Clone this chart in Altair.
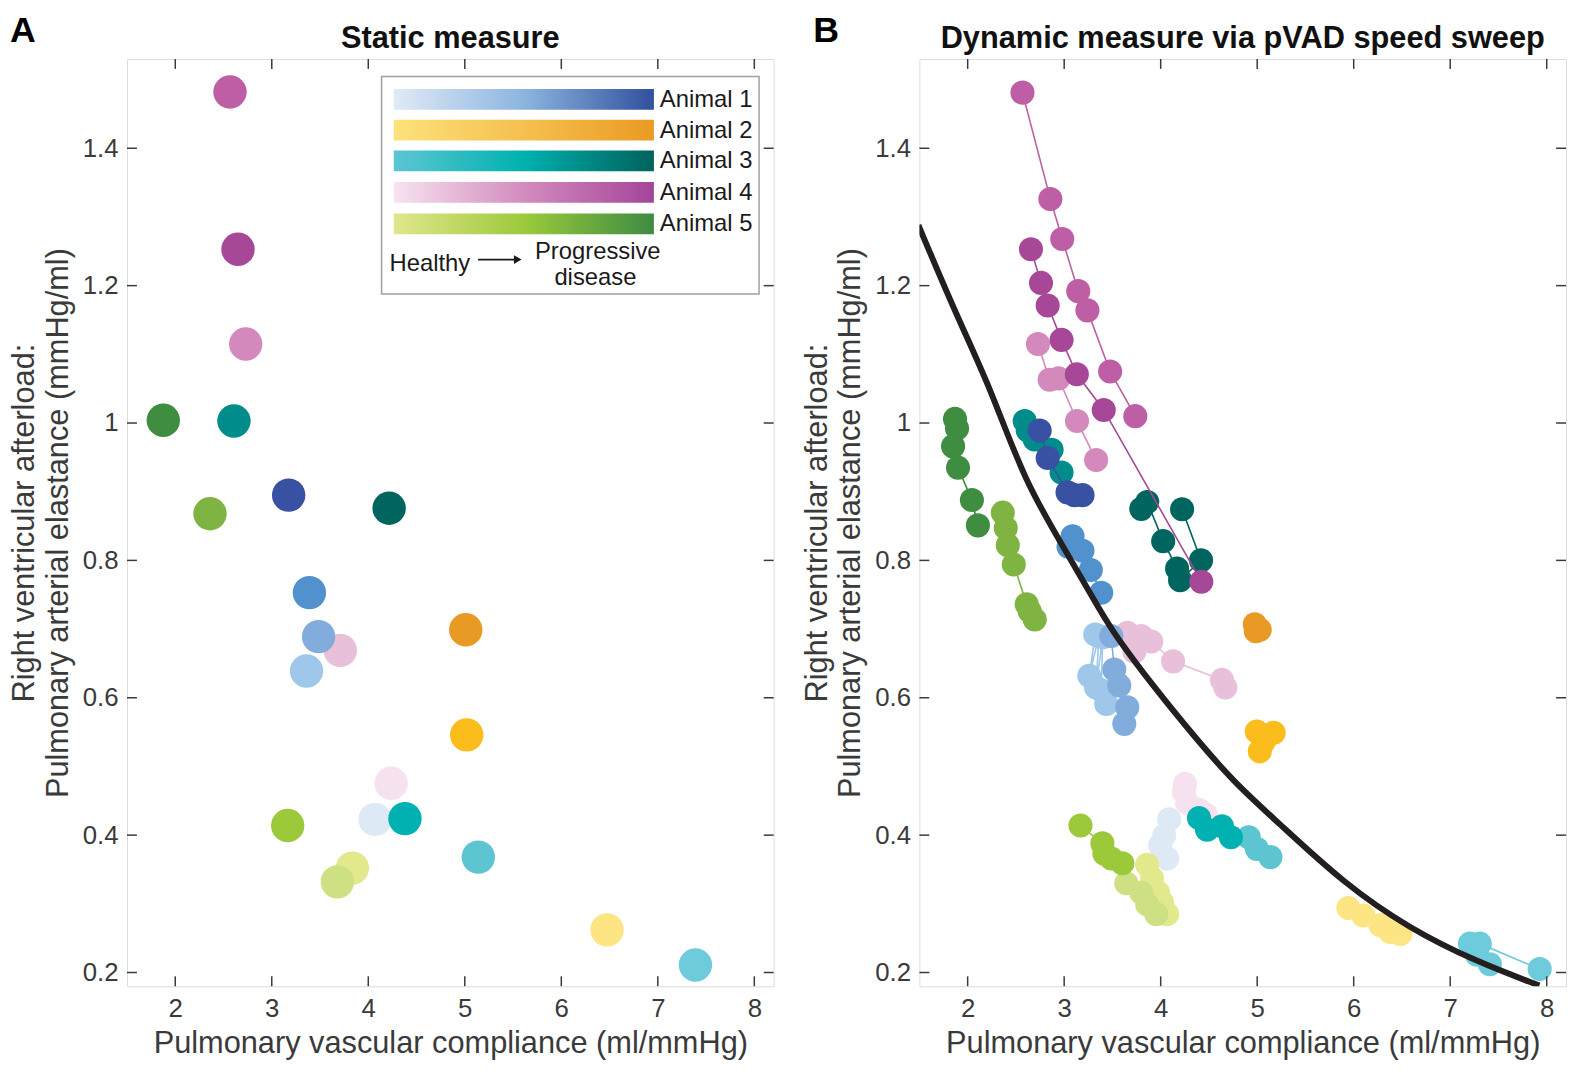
import altair as alt
import pandas as pd

FONT = "Liberation Sans"
W, H = 652, 935
XDOM = [1.5, 8.2]
YDOM = [0.18, 1.53]
AXIS_COL = "#3a3a3a"
TEXT_COL = "#1a1a1a"

# ---------------- data ----------------
x_ticks = [2, 3, 4, 5, 6, 7, 8]
y_ticks = [0.2, 0.4, 0.6, 0.8, 1.0, 1.2, 1.4]
animal_names = ["Animal 1", "Animal 2", "Animal 3", "Animal 4", "Animal 5"]

# stage colours (healthy -> progressive disease)
a1_colors = ["#dde9f5", "#9fc7ea", "#82acdc", "#5192ce", "#3951a3"]
a2_colors = ["#fde584", "#fbbd1c", "#e99a24"]
a3_colors = ["#6ecbdb", "#5cc5d1", "#00b1b1", "#008c8a", "#00645f"]
a4_colors = ["#f6e2ef", "#e9c0da", "#d489bd", "#be5ea4", "#a64897"]
a5_colors = ["#e2e88c", "#cde083", "#9cc93a", "#7fb342", "#3e8d41"]

# legend gradients
grad_a1 = ["#e0eaf7", "#8cb5df", "#31509e"]
grad_a2 = ["#fde27b", "#f5c04f", "#ea9a22"]
grad_a3 = ["#5cc6d3", "#00b1ae", "#00625d"]
grad_a4 = ["#f7e3f0", "#d38cbe", "#a5449a"]
grad_a5 = ["#e0e68c", "#9cca3b", "#3d8b42"]

# static measure (panel A)
static_a1_x = [4.07, 3.36, 3.485, 3.39, 3.175]
static_a1_y = [0.423, 0.639, 0.689, 0.753, 0.895]
static_a2_x = [6.474, 5.02, 5.01]
static_a2_y = [0.262, 0.546, 0.699]
static_a3_x = [7.39, 5.14, 4.38, 2.608, 4.216]
static_a3_y = [0.211, 0.368, 0.424, 1.003, 0.876]
static_a4_x = [4.237, 3.71, 2.73, 2.567, 2.65]
static_a4_y = [0.4755, 0.669, 1.115, 1.482, 1.253]
static_a5_x = [3.835, 3.68, 3.165, 2.36, 1.876]
static_a5_y = [0.352, 0.332, 0.414, 0.868, 1.004]

# dynamic measure (panel B), one sweep per animal/stage
dyn_a1s1_x = [4.088, 4.036, 3.995, 4.067]
dyn_a1s1_y = [0.423, 0.399, 0.385, 0.366]
dyn_a1s2_x = [3.322, 3.260, 3.36, 3.33, 3.40, 3.384, 3.436]
dyn_a1s2_y = [0.692, 0.632, 0.690, 0.615, 0.688, 0.611, 0.591]
dyn_a1s3_x = [3.488, 3.519, 3.571, 3.654, 3.623]
dyn_a1s3_y = [0.690, 0.641, 0.618, 0.586, 0.562]
dyn_a1s4_x = [3.087, 3.045, 3.190, 3.276, 3.384]
dyn_a1s4_y = [0.835, 0.820, 0.814, 0.786, 0.753]
dyn_a1s5_x = [2.746, 2.829, 3.035, 3.107, 3.190]
dyn_a1s5_y = [0.989, 0.949, 0.899, 0.895, 0.895]

dyn_a2s1_x = [5.945, 6.100, 6.276, 6.379, 6.482]
dyn_a2s1_y = [0.294, 0.283, 0.269, 0.259, 0.256]
dyn_a2s2_x = [4.996, 5.171, 5.068, 5.027]
dyn_a2s2_y = [0.551, 0.549, 0.536, 0.522]
dyn_a2s3_x = [4.975, 5.027, 4.986]
dyn_a2s3_y = [0.707, 0.699, 0.697]

dyn_a3s1_x = [7.411, 7.277, 7.204, 7.307, 7.927]
dyn_a3s1_y = [0.212, 0.226, 0.242, 0.242, 0.205]
dyn_a3s2_x = [4.913, 4.996, 5.137]
dyn_a3s2_y = [0.397, 0.380, 0.368]
dyn_a3s3_x = [4.397, 4.480, 4.635, 4.728]
dyn_a3s3_y = [0.425, 0.408, 0.413, 0.397]
dyn_a3s4_x = [2.591, 2.622, 2.695, 2.870, 2.973]
dyn_a3s4_y = [1.003, 0.989, 0.976, 0.961, 0.928]
dyn_a3s5_x = [4.222, 4.418, 4.201, 4.170, 4.026, 3.861, 3.799]
dyn_a3s5_y = [0.8745, 0.800, 0.771, 0.788, 0.828, 0.885, 0.875]

dyn_a4s1_x = [4.252, 4.242, 4.273, 4.396, 4.468]
dyn_a4s1_y = [0.4746, 0.4624, 0.447, 0.437, 0.430]
dyn_a4s2_x = [3.654, 3.727, 3.799, 3.902, 4.129, 4.635, 4.670]
dyn_a4s2_y = [0.6945, 0.667, 0.690, 0.682, 0.653, 0.626, 0.615]
dyn_a4s3_x = [2.728, 2.849, 2.942, 3.133, 3.331]
dyn_a4s3_y = [1.115, 1.063, 1.065, 1.003, 0.946]
dyn_a4s4_x = [2.568, 2.857, 2.980, 3.146, 3.241, 3.476, 3.737]
dyn_a4s4_y = [1.481, 1.326, 1.268, 1.192, 1.164, 1.075, 1.010]
dyn_a4s5_x = [2.656, 2.760, 2.829, 2.973, 3.131, 3.410, 4.421]
dyn_a4s5_y = [1.253, 1.204, 1.171, 1.121, 1.071, 1.019, 0.769]

dyn_a5s1_x = [3.859, 3.910, 3.972, 4.014, 4.066]
dyn_a5s1_y = [0.357, 0.337, 0.3165, 0.302, 0.285]
dyn_a5s2_x = [3.644, 3.799, 3.861, 3.954]
dyn_a5s2_y = [0.330, 0.316, 0.299, 0.285]
dyn_a5s3_x = [3.169, 3.396, 3.417, 3.489, 3.603]
dyn_a5s3_y = [0.414, 0.388, 0.373, 0.366, 0.359]
dyn_a5s4_x = [2.364, 2.395, 2.416, 2.478, 2.612, 2.643, 2.695]
dyn_a5s4_y = [0.8695, 0.847, 0.822, 0.794, 0.736, 0.726, 0.714]
dyn_a5s5_x = [1.869, 1.890, 1.849, 1.900, 2.044, 2.106]
dyn_a5s5_y = [1.006, 0.992, 0.966, 0.935, 0.888, 0.851]

# black fitted curve
fit_x = [1.49, 1.886, 2.237, 2.591, 3.038, 3.383, 3.554, 3.933, 4.346, 4.758, 5.205, 5.894, 6.582, 7.269, 7.924]
fit_y = [1.288, 1.156, 1.051, 0.914, 0.809, 0.724, 0.686, 0.615, 0.544, 0.477, 0.420, 0.330, 0.2635, 0.216, 0.181]

# ---------------- assemble ----------------
animals = [
    (1, a1_colors, static_a1_x, static_a1_y,
     [(dyn_a1s1_x, dyn_a1s1_y), (dyn_a1s2_x, dyn_a1s2_y), (dyn_a1s3_x, dyn_a1s3_y),
      (dyn_a1s4_x, dyn_a1s4_y), (dyn_a1s5_x, dyn_a1s5_y)]),
    (2, a2_colors, static_a2_x, static_a2_y,
     [(dyn_a2s1_x, dyn_a2s1_y), (dyn_a2s2_x, dyn_a2s2_y), (dyn_a2s3_x, dyn_a2s3_y)]),
    (3, a3_colors, static_a3_x, static_a3_y,
     [(dyn_a3s1_x, dyn_a3s1_y), (dyn_a3s2_x, dyn_a3s2_y), (dyn_a3s3_x, dyn_a3s3_y),
      (dyn_a3s4_x, dyn_a3s4_y), (dyn_a3s5_x, dyn_a3s5_y)]),
    (4, a4_colors, static_a4_x, static_a4_y,
     [(dyn_a4s1_x, dyn_a4s1_y), (dyn_a4s2_x, dyn_a4s2_y), (dyn_a4s3_x, dyn_a4s3_y),
      (dyn_a4s4_x, dyn_a4s4_y), (dyn_a4s5_x, dyn_a4s5_y)]),
    (5, a5_colors, static_a5_x, static_a5_y,
     [(dyn_a5s1_x, dyn_a5s1_y), (dyn_a5s2_x, dyn_a5s2_y), (dyn_a5s3_x, dyn_a5s3_y),
      (dyn_a5s4_x, dyn_a5s4_y), (dyn_a5s5_x, dyn_a5s5_y)]),
]
gradients = [grad_a1, grad_a2, grad_a3, grad_a4, grad_a5]

static_rows = []
series = []
for aid, cols, sx, sy, dyn in animals:
    for k in range(len(sx)):
        static_rows.append({"x": sx[k], "y": sy[k], "color": cols[k], "rank": (k + 1) * 10 + aid})
    for k, (dx, dy) in enumerate(dyn):
        df = pd.DataFrame({"x": dx, "y": dy, "idx": list(range(len(dx)))})
        series.append(((k + 1) * 10 + aid, cols[k], df))
static_df = pd.DataFrame(static_rows)
series.sort(key=lambda s: s[0])

xs = alt.Scale(domain=XDOM, nice=False, zero=False)
ys = alt.Scale(domain=YDOM, nice=False, zero=False)

x_axis = alt.Axis(values=x_ticks, title="Pulmonary vascular compliance (ml/mmHg)",
                  ticks=False, domain=False, grid=False, labelFontSize=26, labelPadding=10,
                  titleFontSize=31, titlePadding=7, labelColor=AXIS_COL, titleColor=AXIS_COL,
                  labelFont=FONT, titleFont=FONT, titleFontWeight="normal")
y_axis = alt.Axis(values=y_ticks, format="~g",
                  title=["Right ventricular afterload:", "Pulmonary arterial elastance (mmHg/ml)"],
                  ticks=False, domain=False, grid=False, labelFontSize=26, labelPadding=9,
                  titleFontSize=31, titlePadding=8, titleLineHeight=34,
                  labelColor=AXIS_COL, titleColor=AXIS_COL,
                  labelFont=FONT, titleFont=FONT, titleFontWeight="normal")


def X(field):
    return alt.X(field, scale=xs, axis=x_axis)


def Y(field):
    return alt.Y(field, scale=ys, axis=y_axis)


one = pd.DataFrame({"a": [0]})
xt_df = pd.DataFrame({"x": x_ticks})
yt_df = pd.DataFrame({"y": y_ticks})


def tick_layers():
    tick = dict(color=AXIS_COL, strokeWidth=1.5)
    xb = alt.Chart(xt_df).mark_rule(**tick).encode(
        x=X("x:Q"), y=alt.value(H), y2=alt.value(H - 10))
    xtp = alt.Chart(xt_df).mark_rule(**tick).encode(
        x=X("x:Q"), y=alt.value(0), y2=alt.value(10))
    yl = alt.Chart(yt_df).mark_rule(**tick).encode(
        y=Y("y:Q"), x=alt.value(0), x2=alt.value(10))
    yr = alt.Chart(yt_df).mark_rule(**tick).encode(
        y=Y("y:Q"), x=alt.value(W), x2=alt.value(W - 10))
    return [xb, xtp, yl, yr]


def letter(txt, xpos):
    return alt.Chart(one).mark_text(text=txt, font=FONT, fontSize=36, fontWeight="bold",
                                    align="left", baseline="top", color="#000000").encode(
        x=alt.value(xpos), y=alt.value(-45))


def panel_title(txt):
    return alt.Chart(one).mark_text(text=txt, font=FONT, fontSize=31, fontWeight="bold",
                                    align="center", baseline="alphabetic", color="#111111").encode(
        x=alt.value(W / 2), y=alt.value(-11))


# ---------------- panel A ----------------
points_a = alt.Chart(static_df).mark_circle(size=1134, opacity=1, strokeWidth=0).encode(
    x=X("x:Q"), y=Y("y:Q"),
    color=alt.Color("color:N", scale=None),
    order=alt.Order("rank:Q"),
)

legend_layers = [
    alt.Chart(one).mark_rect(fill="white", stroke="#a0a0a0", strokeWidth=1.5).encode(
        x=alt.value(256.7), x2=alt.value(637.3), y=alt.value(17.7), y2=alt.value(237))
]
bar_tops = [30.3, 61.3, 92.3, 124.0, 155.7]
for i, gcols in enumerate(gradients):
    n = len(gcols)
    g = alt.LinearGradient(gradient="linear",
                           stops=[alt.GradientStop(color=c, offset=j / (n - 1)) for j, c in enumerate(gcols)],
                           x1=0, x2=1, y1=0, y2=0)
    legend_layers.append(alt.Chart(one).mark_rect(fill=g, strokeWidth=0).encode(
        x=alt.value(269), x2=alt.value(531.3), y=alt.value(bar_tops[i]), y2=alt.value(bar_tops[i] + 21)))
    legend_layers.append(alt.Chart(one).mark_text(
        text=animal_names[i], font=FONT, fontSize=24, align="left", baseline="middle", color=TEXT_COL).encode(
        x=alt.value(537.3), y=alt.value(bar_tops[i] + 11)))
legend_layers.append(alt.Chart(one).mark_text(
    text="Healthy", font=FONT, fontSize=24, align="left", baseline="middle", color=TEXT_COL).encode(
    x=alt.value(264.7), y=alt.value(206.3)))
legend_layers.append(alt.Chart(one).mark_rule(color=TEXT_COL, strokeWidth=1.6).encode(
    x=alt.value(354), x2=alt.value(392), y=alt.value(202.3)))
legend_layers.append(alt.Chart(one).mark_point(shape="triangle-right", filled=True, size=80,
                                               color=TEXT_COL, opacity=1).encode(
    x=alt.value(394), y=alt.value(202.3)))
legend_layers.append(alt.Chart(one).mark_text(
    text="Progressive", font=FONT, fontSize=24, align="center", baseline="middle", color=TEXT_COL).encode(
    x=alt.value(474.7), y=alt.value(194.7)))
legend_layers.append(alt.Chart(one).mark_text(
    text="disease", font=FONT, fontSize=24, align="center", baseline="middle", color=TEXT_COL).encode(
    x=alt.value(472.3), y=alt.value(221)))

panel_a = alt.layer(points_a, *tick_layers(), *legend_layers, letter("A", -118),
                    panel_title("Static measure")).properties(width=W, height=H)

# ---------------- panel B ----------------
b_layers = []
for rank, col, df in series:
    b_layers.append(alt.Chart(df).mark_line(color=col, strokeWidth=1.6).encode(
        x=X("x:Q"), y=Y("y:Q"), order="idx:Q"))
    b_layers.append(alt.Chart(df).mark_circle(color=col, size=590, opacity=1, strokeWidth=0).encode(
        x=X("x:Q"), y=Y("y:Q")))

fit_df = pd.DataFrame({"x": fit_x, "y": fit_y})
curve = alt.Chart(fit_df).mark_line(color="#231f20", strokeWidth=6, interpolate="basis", clip=True).encode(
    x=X("x:Q"), y=Y("y:Q"))

panel_b = alt.layer(*b_layers, curve, *tick_layers(), letter("B", -107),
                    panel_title("Dynamic measure via pVAD speed sweep")).properties(width=W, height=H)

chart = alt.hconcat(panel_a, panel_b, spacing=25).properties(padding=0).configure_view(
    stroke=AXIS_COL, strokeWidth=1.5).configure(font=FONT)

chart.save("out.html", embed_options={"renderer": "svg", "actions": False})
